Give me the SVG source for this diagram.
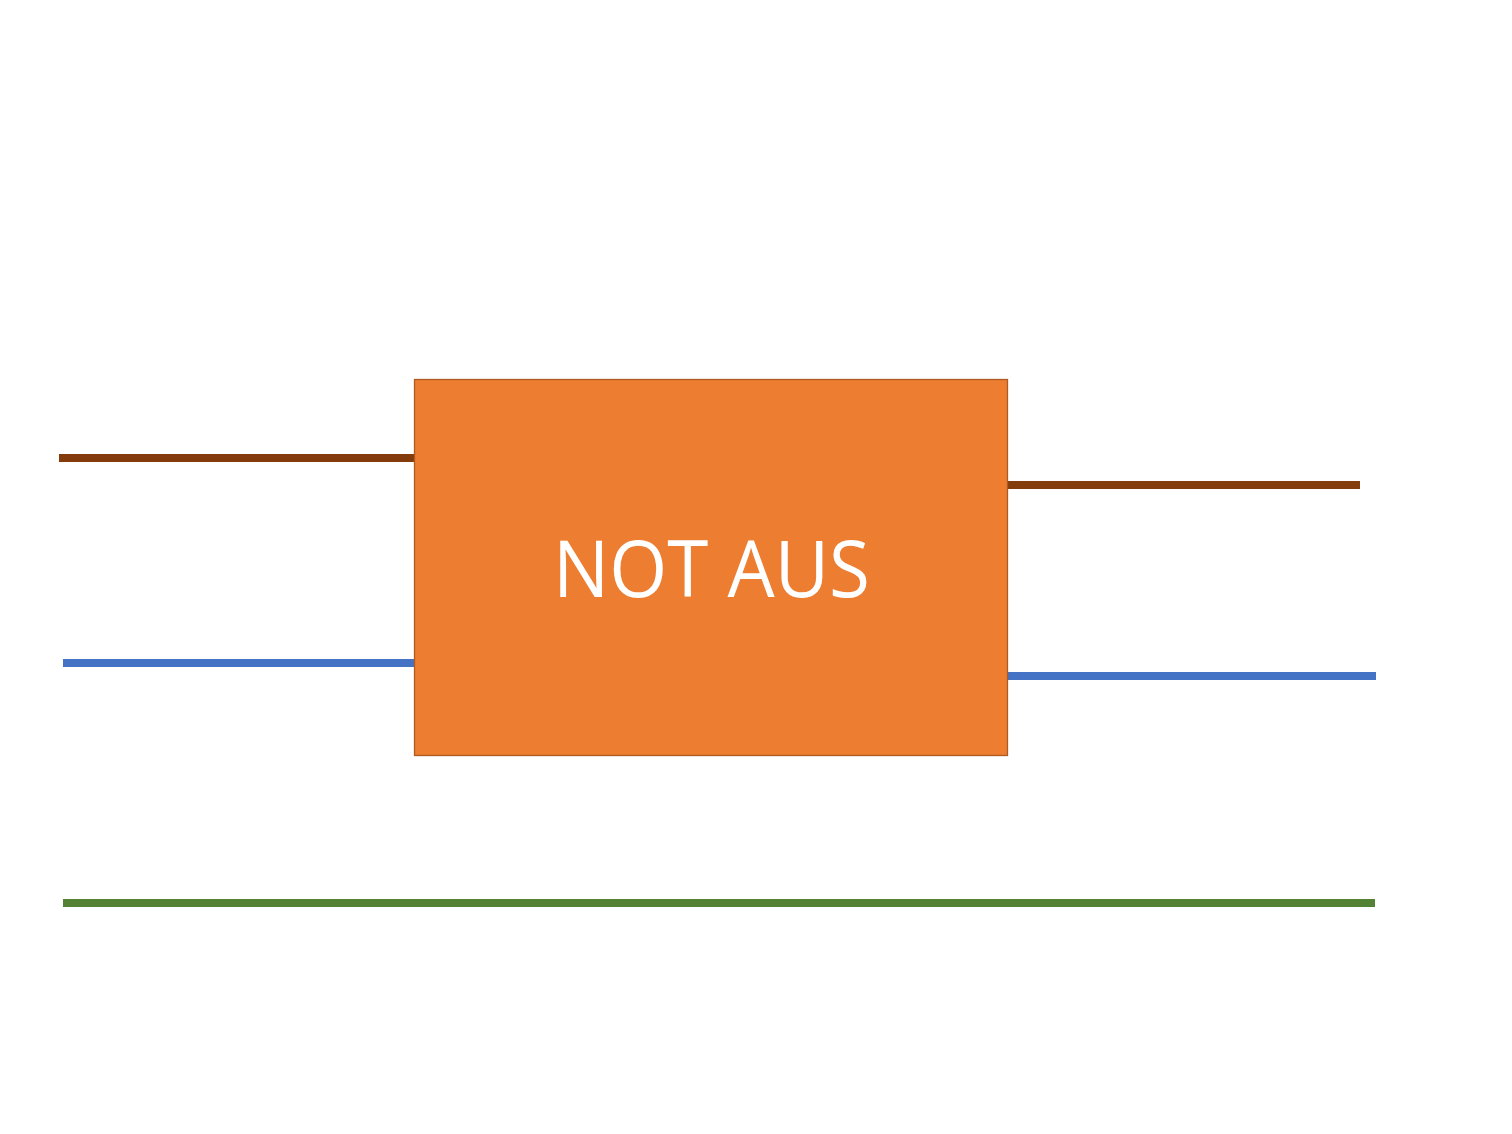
<svg xmlns="http://www.w3.org/2000/svg" width="1512" height="1134" viewBox="0 0 1512 1134">
<style>
.brown{stroke:#843C0C;stroke-width:8;fill:none}
.blue{stroke:#4472C4;stroke-width:8;fill:none}
.green{stroke:#548235;stroke-width:8;fill:none}
.box{fill:#ED7D31;stroke:#AE5A21;stroke-width:1.3}
.lbl{font-family:"Open Sans","Noto Sans",sans-serif;font-size:78px;fill:#FFFFFF}
</style>
<rect width="1512" height="1134" fill="#FFFFFF"/>
<g id="connectors">
<line class="brown" x1="59" y1="458" x2="414" y2="458"/>
<line class="blue" x1="63" y1="663" x2="414" y2="663"/>
<line class="brown" x1="1007" y1="485" x2="1360" y2="485"/>
<line class="blue" x1="1007" y1="676" x2="1376" y2="676"/>
<line class="green" x1="63" y1="903" x2="1375" y2="903"/>
</g>
<g id="not-aus">
<rect class="box" x="414.5" y="379.5" width="593" height="376"/>
<text class="lbl" x="711.5" y="597" text-anchor="middle" textLength="317" lengthAdjust="spacingAndGlyphs">NOT AUS</text>
</g>
</svg>
